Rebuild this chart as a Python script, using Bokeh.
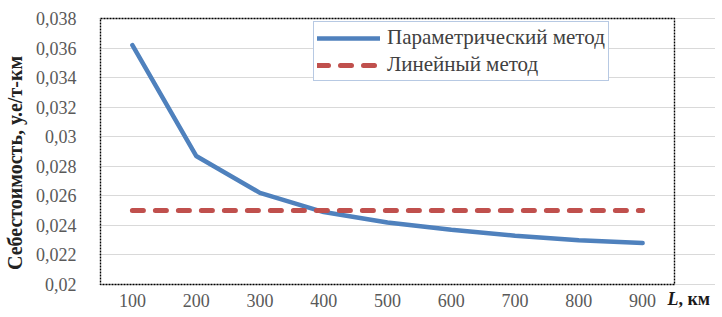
from bokeh.plotting import figure
from bokeh.models import (FixedTicker, Legend, LegendItem, Label, LinearAxis, Range1d)
from bokeh.embed import file_html
from bokeh.resources import INLINE

# ---- data ----
distances = ["100", "200", "300", "400", "500", "600", "700", "800", "900"]
parametric = [0.0362, 0.0287, 0.0262, 0.0249, 0.0242, 0.0237, 0.0233, 0.0230, 0.0228]
linear = [0.025, 0.025, 0.025, 0.025, 0.025, 0.025, 0.025, 0.025, 0.025]
y_ticks = [0.020, 0.022, 0.024, 0.026, 0.028, 0.030, 0.032, 0.034, 0.036, 0.038]
series_names = ["Параметрический метод", "Линейный метод"]
y_axis_title = "Себестоимость, у.е/т-км"
x_axis_title_italic = "L"
x_axis_title_rest = ", км"

SERIF = "Liberation Serif"

# ---- layout (pixels) ----
PW, PH = 574, 266              # visible plot area
ML, MT, MR, MB = 2, 2, 41, 25  # extra frame room around it (border + axis title row)
n = len(distances)
xu = PW / n
yu = PH / (y_ticks[-1] - y_ticks[0])
xs = [i + 0.5 for i in range(n)]   # category centres

p = figure(x_range=Range1d(-ML / xu, n + MR / xu),
           y_range=Range1d(y_ticks[0] - MB / yu, y_ticks[-1] + MT / yu),
           frame_width=PW + ML + MR, frame_height=PH + MT + MB,
           x_axis_location=None,
           output_backend="svg", toolbar_location=None,
           min_border_left=89, min_border_right=0, min_border_top=16, min_border_bottom=0)

p.background_fill_color = "white"
p.border_fill_color = "white"
p.outline_line_color = None
p.xgrid.grid_line_color = None

# y axis
p.yaxis.ticker = FixedTicker(ticks=y_ticks)
p.yaxis.major_label_overrides = {v: f"{v:g}".replace(".", ",") for v in y_ticks}
p.yaxis.axis_line_color = None
p.yaxis.major_tick_line_color = None
p.yaxis.minor_tick_line_color = None
p.yaxis.major_label_text_font = SERIF
p.yaxis.major_label_text_font_size = "18px"
p.yaxis.major_label_text_color = "#595959"
p.yaxis.major_label_standoff = 16
p.yaxis.axis_label = y_axis_title
p.yaxis.axis_label_text_font = SERIF
p.yaxis.axis_label_text_font_style = "bold"
p.yaxis.axis_label_text_font_size = "20px"
p.yaxis.axis_label_text_color = "#222222"
p.yaxis.axis_label_standoff = 7

p.ygrid.grid_line_color = "#D9D9D9"
p.ygrid.grid_line_width = 1
p.ygrid.bounds = (0, n)

# x axis, drawn along the bottom edge of the plot area
xaxis = LinearAxis(ticker=FixedTicker(ticks=xs),
                   major_label_overrides={x: d for x, d in zip(xs, distances)},
                   fixed_location=y_ticks[0],
                   axis_line_color=None, major_tick_line_color=None, minor_tick_line_color=None,
                   major_label_text_font=SERIF, major_label_text_font_size="18px",
                   major_label_text_color="#595959", major_label_standoff=3)
p.add_layout(xaxis, "below")

# dotted border of the plot area
p.quad(left=0, right=n, bottom=y_ticks[0], top=y_ticks[-1],
       fill_color=None, line_color="black", line_dash="2 1", line_width=1.4)

# series
r1 = p.line(x=xs, y=parametric, line_color="#4F81BD", line_width=4.5,
            line_join="round", line_cap="round")
r2 = p.line(x=xs, y=linear, line_color="#C0504D", line_width=5,
            line_dash="11 12", line_cap="round")

legend = Legend(items=[LegendItem(label=series_names[0], renderers=[r1]),
                       LegendItem(label=series_names[1], renderers=[r2])],
                location=(215, 228), orientation="vertical",
                padding=3, spacing=2, margin=0,
                glyph_width=63, glyph_height=24, label_height=24,
                label_standoff=7,
                label_text_font=SERIF, label_text_font_size="21px",
                label_text_color="#404040",
                border_line_color="#6F93C8", border_line_width=1,
                background_fill_color="white", background_fill_alpha=1)
p.add_layout(legend)

# axis title to the right of the last tick label
p.add_layout(Label(x=n, y=y_ticks[0], x_offset=-7, y_offset=-14,
                   text=x_axis_title_italic, text_font=SERIF, text_font_size="18px",
                   text_font_style="bold italic", text_color="#1a1a1a",
                   text_align="left", text_baseline="middle"))
p.add_layout(Label(x=n, y=y_ticks[0], x_offset=4, y_offset=-14,
                   text=x_axis_title_rest, text_font=SERIF, text_font_size="18px",
                   text_font_style="bold", text_color="#1a1a1a",
                   text_align="left", text_baseline="middle"))

open("out.html", "w").write(file_html(p, INLINE))
